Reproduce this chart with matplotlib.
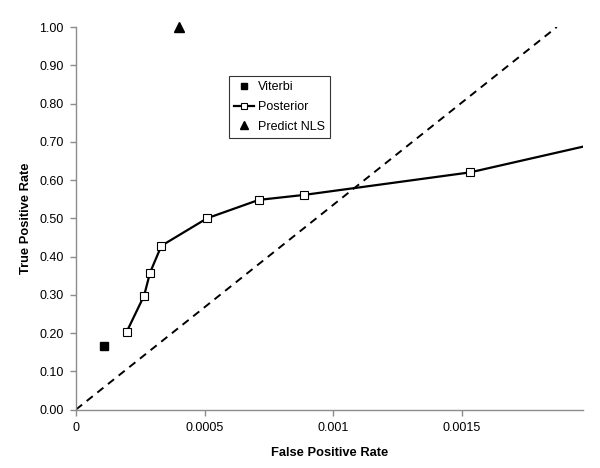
import matplotlib
matplotlib.use("Agg")
import matplotlib.pyplot as plt
from matplotlib.ticker import FixedLocator

plt.rcParams['font.family'] = ['Liberation Sans', 'DejaVu Sans']

# datos
posterior_fpr = [0.000197, 0.000265, 0.000288, 0.000332, 0.00051, 0.000711, 0.000887, 0.001533, 0.0025]
posterior_tpr = [0.203, 0.298, 0.358, 0.428, 0.500, 0.548, 0.561, 0.620, 0.768]
viterbi_fpr = [0.000109]
viterbi_tpr = [0.167]
nls_fpr = [0.0004]
nls_tpr = [1.0]
diag_fpr = [0.0, 0.00187]
diag_tpr = [0.0, 1.0]

x_ticks = [0, 0.0005, 0.001, 0.0015]
x_labels = ['0', '0.0005', '0.001', '0.0015']
y_ticks = [i / 10 for i in range(11)]

fig = plt.figure(figsize=(6, 4.68), dpi=100)
ax = fig.add_axes([0.1267, 0.125, 0.845, 0.8173])

ax.plot(diag_fpr, diag_tpr, color='black', linestyle=(0, (4, 3)), linewidth=1.4)
ax.plot(posterior_fpr, posterior_tpr, color='black', linewidth=1.6,
        marker='s', markersize=5.5, markerfacecolor='white', markeredgecolor='black',
        markeredgewidth=0.8, label='Posterior')
ax.plot(viterbi_fpr, viterbi_tpr, linestyle='none', marker='s', markersize=6,
        color='black', label='Viterbi')
ax.plot(nls_fpr, nls_tpr, linestyle='none', marker='^', markersize=7,
        color='black', label='Predict NLS', clip_on=False)

ax.set_xlim(0, 0.001972)
ax.set_ylim(0, 1.0)

ax.xaxis.set_major_locator(FixedLocator(x_ticks))
ax.set_xticklabels(x_labels)
ax.set_yticks(y_ticks)
ax.set_yticklabels([f'{v:.2f}' for v in y_ticks])

for s in ['top', 'right']:
    ax.spines[s].set_visible(False)
for s in ['left', 'bottom']:
    ax.spines[s].set_color('#8c8c8c')
    ax.spines[s].set_linewidth(1.0)
ax.tick_params(axis='both', direction='out', length=4, width=1, color='#8c8c8c',
               labelsize=9, pad=5)

ax.set_xlabel('False Positive Rate', fontsize=9.3, fontweight='bold', labelpad=9)
ax.set_ylabel('True Positive Rate', fontsize=9.3, fontweight='bold', labelpad=5)

# orden de la leyenda: Viterbi, Posterior, Predict NLS
h, l = ax.get_legend_handles_labels()
orden = [l.index('Viterbi'), l.index('Posterior'), l.index('Predict NLS')]
leg = ax.legend([h[i] for i in orden], [l[i] for i in orden],
                loc='upper left', bbox_to_anchor=(0.3027, 0.871),
                fontsize=9, frameon=True, fancybox=False, borderpad=0.4,
                handlelength=1.6, handletextpad=0.25, labelspacing=0.62,
                borderaxespad=0, markerscale=0.8)
leg.get_frame().set_edgecolor('black')
leg.get_frame().set_linewidth(0.8)

plt.savefig('out.png', dpi=100)
